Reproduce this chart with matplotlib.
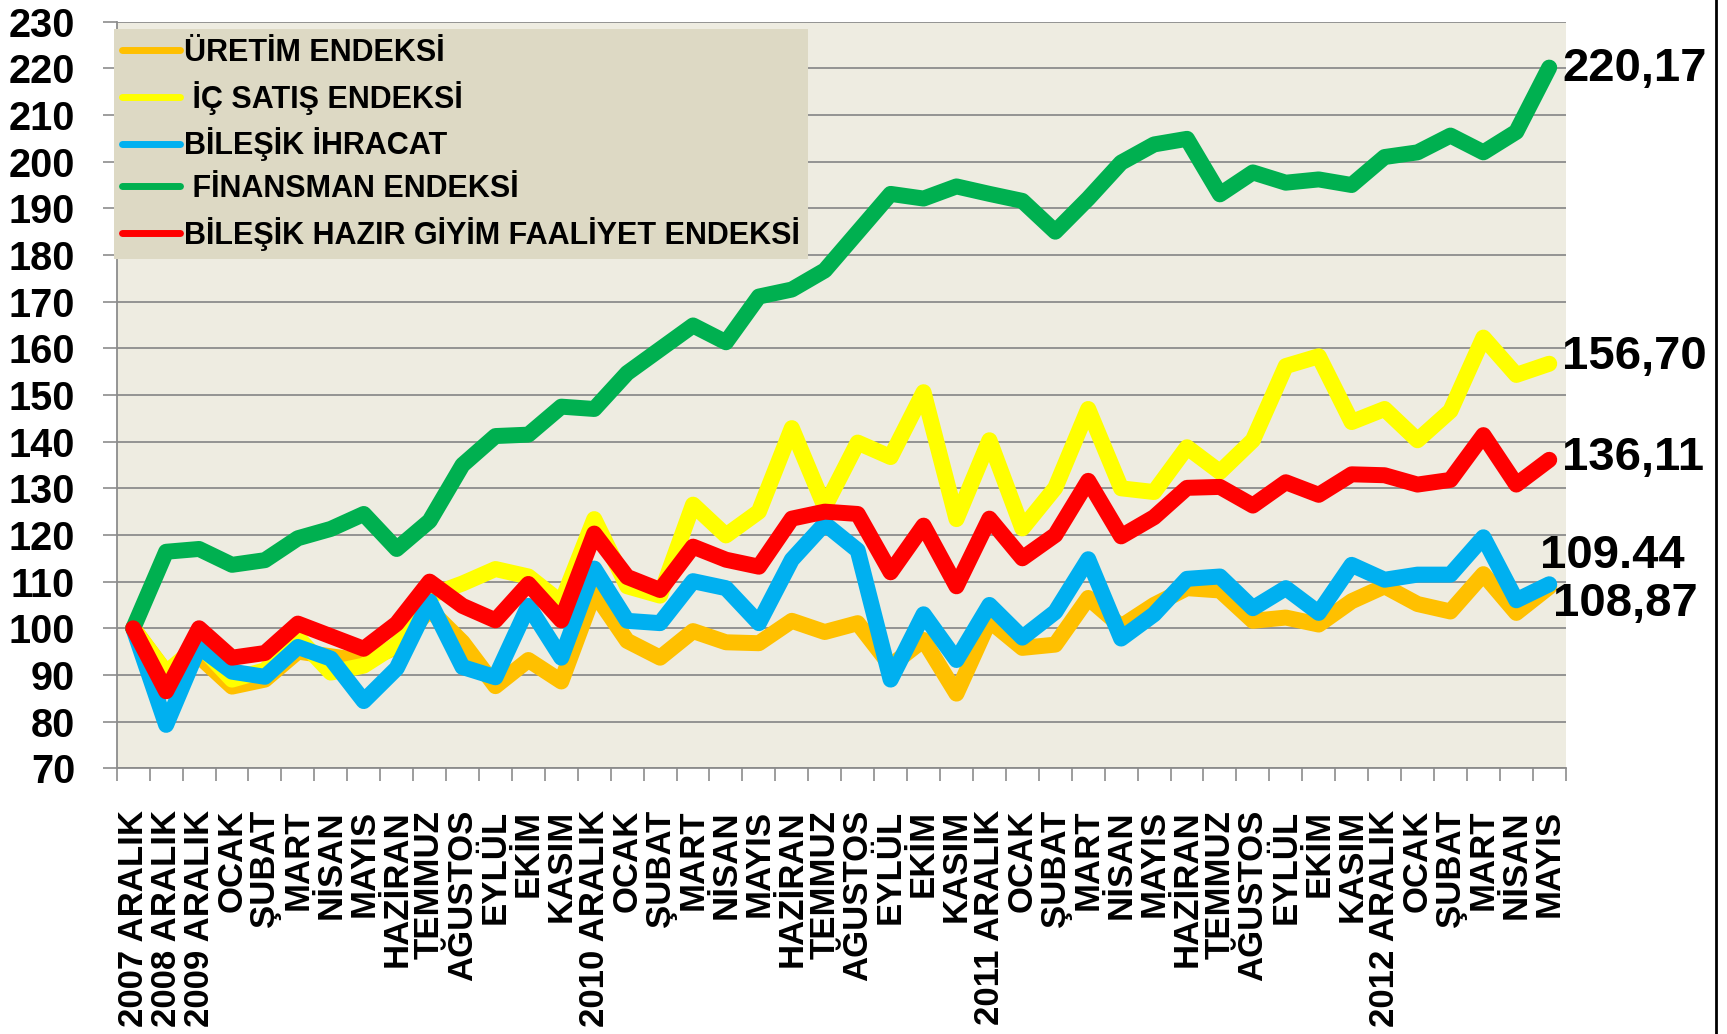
import matplotlib
matplotlib.use("Agg")
import matplotlib.pyplot as plt
from matplotlib.lines import Line2D

plt.rcParams['font.family'] = ['Liberation Sans', 'DejaVu Sans']
plt.rcParams['font.weight'] = 'bold'

# Veriler
aylar = ["2007 ARALIK", "2008 ARALIK", "2009 ARALIK", "OCAK", "ŞUBAT", "MART", "NİSAN",
         "MAYIS", "HAZİRAN", "TEMMUZ", "AĞUSTOS", "EYLÜL", "EKİM", "KASIM",
         "2010 ARALIK", "OCAK", "ŞUBAT", "MART", "NİSAN", "MAYIS", "HAZİRAN", "TEMMUZ",
         "AĞUSTOS", "EYLÜL", "EKİM", "KASIM", "2011 ARALIK", "OCAK", "ŞUBAT", "MART",
         "NİSAN", "MAYIS", "HAZİRAN", "TEMMUZ", "AĞUSTOS", "EYLÜL", "EKİM", "KASIM",
         "2012 ARALIK", "OCAK", "ŞUBAT", "MART", "NİSAN", "MAYIS"]

uretim = [100, 90.5, 94, 87.5, 89, 95, 94, 93, 96, 104, 97, 87.6, 93.2, 88.6,
          107.6, 97.3, 93.7, 99.4, 97, 96.8, 101.6, 99.2, 101.1, 92, 97.5, 86, 101.6,
          95.8, 96.5, 106.5, 100.4, 105, 108.6, 108.1, 101.6, 102.3, 100.8, 105.8,
          109, 105.2, 103.6, 111.6, 103.3, 108.87]
ic_satis = [100, 90.5, 96.5, 89, 91, 98, 90.5, 92, 96.5, 107, 109.6, 112.7, 111.1, 105.5,
            123.4, 109, 107, 126.5, 119.9, 125, 142.9, 126, 139.8, 136.7, 150.6, 123.4, 140.3,
            121.4, 130.1, 147, 130, 129.2, 138.8, 133.5, 140.3, 156.2, 158.3, 144.2,
            147, 140.3, 146.6, 162.3, 154.3, 156.70]
ihracat = [100, 79.3, 96, 90.7, 89.6, 96, 93.5, 84.4, 91.4, 105.8, 91.7, 89.5, 104.8, 93.7,
           112.8, 101.6, 101.1, 110.1, 108.6, 101.1, 114.7, 122.4, 116.7, 89, 103, 93.2, 105,
           98, 103.5, 114.8, 97.8, 103, 110.6, 111.1, 104.3, 108.6, 103.3, 113.6,
           110.4, 111.5, 111.5, 119.5, 106, 109.44]
finansman = [100, 116.4, 117, 113.6, 114.6, 119.3, 121.3, 124.5, 117, 123, 135, 141.2, 141.5, 147.5,
             147, 154.7, 159.8, 164.9, 161.3, 171.1, 172.6, 176.7, 184.9, 193.1, 192.1, 194.7, 193.1,
             191.6, 185, 192.1, 199.8, 203.7, 204.9, 193, 197.7, 195.5, 196.2, 195,
             201, 202, 205.6, 202, 206.4, 220.17]
hazir_giyim = [100, 86.5, 100, 93.7, 94.7, 101, 98.3, 95.6, 101, 110, 104.8, 101.7, 109.5, 101.7,
               120.3, 111, 108.2, 117.5, 114.7, 113.2, 123.5, 125, 124.5, 112, 122, 109, 123.5,
               115, 120, 131.6, 119.7, 123.8, 130.1, 130.3, 126.3, 131.3, 128.6, 133,
               132.8, 130.8, 131.8, 141.4, 130.8, 136.11]

seriler = ["ÜRETİM ENDEKSİ", " İÇ SATIŞ ENDEKSİ", "BİLEŞİK İHRACAT",
           " FİNANSMAN ENDEKSİ", "BİLEŞİK HAZIR GİYİM FAALİYET ENDEKSİ"]
renkler = ["#FFC000", "#FFFF00", "#00B0F0", "#00B050", "#FF0000"]
son_etiketler = ["108,87", "156,70", "109.44", "220,17", "136,11"]
# etiket kaydırmaları (piksel)
kaydirma = [(4, -17), (13, 7), (-9, 28), (13, -1), (13, 2)]

degerler = [uretim, ic_satis, ihracat, finansman, hazir_giyim]
x = list(range(len(aylar)))

fig = plt.figure(figsize=(17.27, 10.34), dpi=100)
ax = fig.add_axes([0.0676, 0.257, 0.839, 0.722])
ax.set_facecolor("#EEECE1")

for seri, renk, y in zip(seriler, renkler, degerler):
    ax.plot(x, y, color=renk, linewidth=11.5, solid_joinstyle="round",
            solid_capstyle="round", label=seri, zorder=3)

for y, txt, off in zip(degerler, son_etiketler, kaydirma):
    ax.annotate(txt, xy=(x[-1], y[-1]), xytext=off, textcoords="offset pixels",
                ha="left", va="center", fontsize=34, fontweight="bold",
                annotation_clip=False, zorder=5)

ax.set_xlim(-0.5, len(aylar) - 0.5)
ax.set_ylim(70, 230)
ax.set_yticks(range(70, 231, 10))
ax.yaxis.grid(True, color="#8C8C8C", linewidth=1.3, zorder=1)
ax.set_axisbelow(True)

ax.set_xticks(x)
ax.set_xticklabels(aylar, rotation=90, fontsize=25, fontweight="bold", va="top")
ax.set_xticks([i - 0.5 for i in range(len(aylar) + 1)], minor=True)
ax.tick_params(axis="x", which="major", length=0, pad=30)
ax.tick_params(axis="x", which="minor", length=9, width=1.2, color="#8C8C8C")
ax.tick_params(axis="y", length=10, width=1.2, color="#8C8C8C", pad=20, labelsize=28.6)
for lbl in ax.get_yticklabels():
    lbl.set_fontweight("bold")

for s in ["top", "right"]:
    ax.spines[s].set_visible(False)
ax.spines["left"].set_color("#8C8C8C")
ax.spines["bottom"].set_color("#8C8C8C")
ax.spines["left"].set_linewidth(1.3)
ax.spines["bottom"].set_linewidth(1.3)

handles = [Line2D([0], [0], color=c, linewidth=5, solid_capstyle="round") for c in renkler]
leg = ax.legend(handles, seriler, loc="upper left", bbox_to_anchor=(-0.002, 0.99),
                borderaxespad=0, frameon=True, fancybox=False, framealpha=1,
                facecolor="#DDD9C4", edgecolor="none",
                prop={"weight": "bold", "size": 22}, handlelength=1.9,
                handletextpad=0.1, labelspacing=0.42, borderpad=0.28)
leg.set_zorder(4)

fig.add_artist(Line2D([0.9938, 0.9938], [0, 1], color="black", linewidth=2))

fig.savefig("out.png", dpi=100)
